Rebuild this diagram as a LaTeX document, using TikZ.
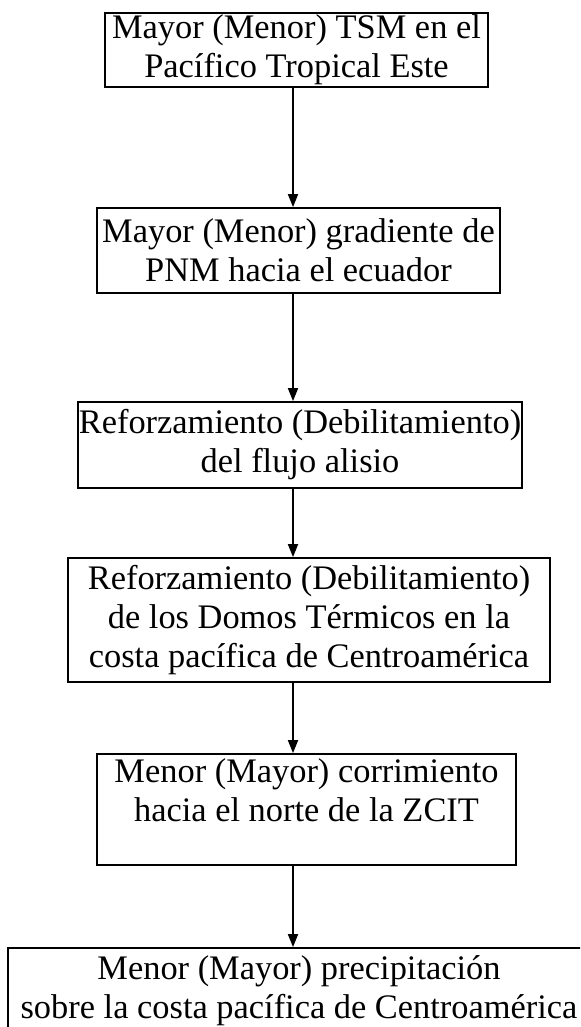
\documentclass[tikz,border=0pt]{standalone}
\usepackage{fontspec}
\setmainfont{Liberation Serif}
\usetikzlibrary{arrows.meta,positioning}

\begin{document}
\begin{tikzpicture}[x=0.5pt,y=-0.5pt,
    caja/.style={draw, line width=0.9pt, inner sep=0pt, align=center,
      font=\fontsize{17.2pt}{19.5pt}\selectfont},
    flecha/.style={line width=0.9pt, -{Triangle[length=6.5pt,width=5pt]}}]
    \useasboundingbox (0,0) rectangle (580,1027);
    \clip (0,0) rectangle (580,1027);
    \coordinate (eje) at (293,0);
    \node[caja, minimum width=191.5pt, minimum height=37pt] (tsm) at (296.5,50)
      {Mayor (Menor) TSM en el\\Pacífico Tropical Este};
    \node[caja, minimum width=201.5pt, minimum height=42.5pt] (pnm) at (298.5,250.5)
      {Mayor (Menor) gradiente de\\PNM hacia el ecuador};
    \node[caja, minimum width=222pt, minimum height=43pt] (alisio) at (300,445)
      {Reforzamiento (Debilitamiento)\\del flujo alisio};
    \node[caja, minimum width=241pt, minimum height=62pt] (domos) at (309,620)
      {Reforzamiento (Debilitamiento)\\de los Domos Térmicos en la\\costa pacífica de Centroamérica};
    \node[caja, minimum width=209.5pt, minimum height=55.5pt] (zcit) at (306.5,809.5)
      {Menor (Mayor) corrimiento\\hacia el norte de la ZCIT\\\mbox{}};
    \node[caja, minimum width=291pt, minimum height=43pt] (lluvia) at (299,991)
      {Menor (Mayor) precipitación\\sobre la costa pacífica de Centroamérica};
    % flechas verticales
    \draw[flecha] (tsm.south -| eje) -- (pnm.north -| eje);
    \draw[flecha] (pnm.south -| eje) -- (alisio.north -| eje);
    \draw[flecha] (alisio.south -| eje) -- (domos.north -| eje);
    \draw[flecha] (domos.south -| eje) -- (zcit.north -| eje);
    \draw[flecha] (zcit.south -| eje) -- (lluvia.north -| eje);
\end{tikzpicture}
\end{document}
